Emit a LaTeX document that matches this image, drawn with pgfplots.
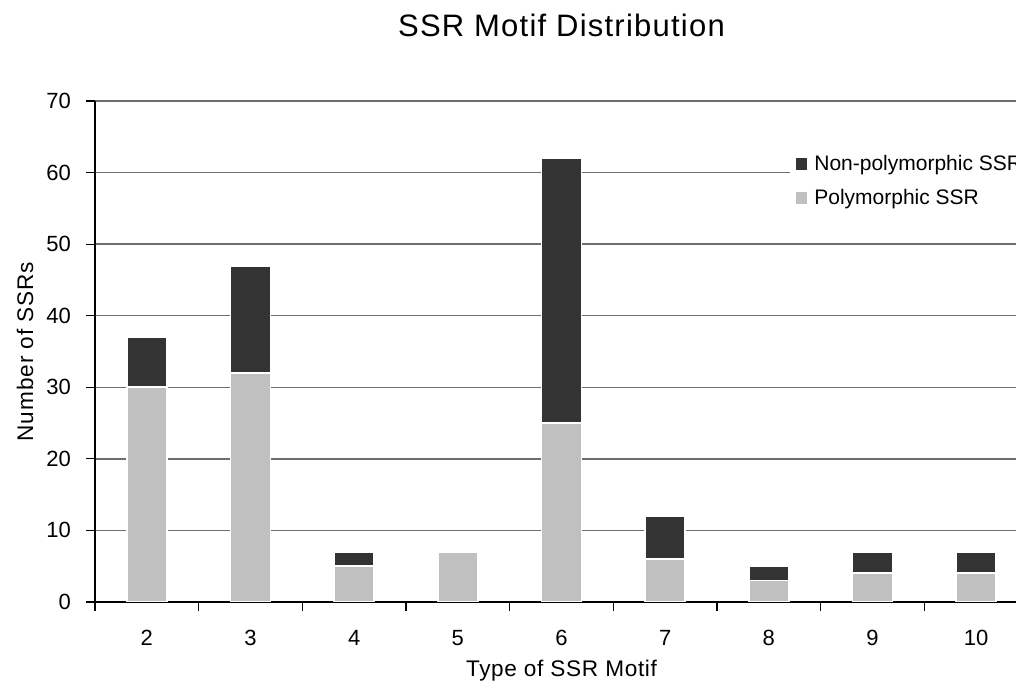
\documentclass[border=0pt]{standalone}
\usepackage{fontspec}
\setmainfont{Liberation Sans}
\usepackage{pgfplots}
\pgfplotsset{compat=1.18}
\definecolor{darkbar}{HTML}{333333}
\definecolor{lightbar}{HTML}{C0C0C0}
\definecolor{gridc}{HTML}{6E6E6E}
\begin{document}
\begin{tikzpicture}
\begin{axis}[
  scale only axis, width=466.5pt, height=250.5pt,
  ybar stacked, bar width=20pt,
  xmin=1.5, xmax=10.5, ymin=0, ymax=70,
  ytick={0,10,...,70},
  xtick={1.5,2.5,...,10.5},
  x tick label as interval,
  xticklabels={2,3,4,5,6,7,8,9,10},
  /pgf/number format/assume math mode=true,
  axis x line*=bottom, axis y line*=left,
  axis line style={black, line width=0.6pt, -},
  tick align=outside, major tick length=4.5pt,
  tick style={black, line width=0.6pt},
  ymajorgrids, grid style={gridc, line width=0.7pt},
  ticklabel style={font=\fontsize{11}{13}\selectfont},
  yticklabel style={xshift=-4pt},
  xticklabel style={yshift=-6pt},
  title={SSR Motif Distribution},
  title style={at={(axis description cs:0.5,1.1497)}, anchor=center, yshift=-5.5pt,
    font=\fontsize{15.5}{18}\selectfont\addfontfeatures{LetterSpace=4}},
  xlabel={Type of SSR Motif},
  xlabel style={at={(axis description cs:0.5,-0.1317)}, anchor=center, yshift=-1.5pt,
    font=\fontsize{11.3}{13}\selectfont\addfontfeatures{LetterSpace=3}},
  ylabel={Number of SSRs},
  ylabel style={at={(axis description cs:-0.075,0.5)}, anchor=center,
    font=\fontsize{11.3}{13}\selectfont\addfontfeatures{LetterSpace=4}},
  reverse legend,
  legend style={at={(axis description cs:0.744,0.913)}, anchor=north west, draw=none, fill=white,
    inner sep=3pt,
    font=\fontsize{10.5}{13}\selectfont, row sep=4pt, cells={anchor=west}},
]
\addplot[fill=lightbar, draw=white, line width=0.9pt,
  legend image code/.code={\path (0pt,0pt) -- (6.5pt,0pt);\fill[lightbar] (0pt,-2.5pt) rectangle (5pt,2.5pt);}]
  coordinates {(2,30) (3,32) (4,5) (5,7) (6,25) (7,6) (8,3) (9,4) (10,4)};
\addplot[fill=darkbar, draw=white, line width=0.9pt,
  legend image code/.code={\path (0pt,0pt) -- (6.5pt,0pt);\fill[darkbar] (0pt,-2.5pt) rectangle (5pt,2.5pt);}]
  coordinates {(2,7) (3,15) (4,2) (5,0) (6,37) (7,6) (8,2) (9,3) (10,3)};
\legend{Polymorphic SSR, Non-polymorphic SSR}
\end{axis}
\pgfresetboundingbox
\useasboundingbox ([shift={(-47.5pt,-39.5pt)}]current axis.south west) rectangle ([shift={(-6pt,50.5pt)}]current axis.north east);
\end{tikzpicture}
\end{document}
